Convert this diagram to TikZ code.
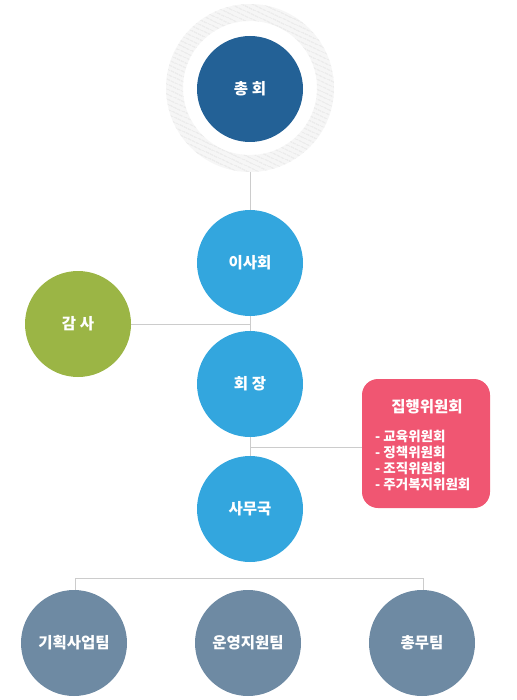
\documentclass[tikz,border=0pt]{standalone}
\usepackage{fontspec}
\setmainfont{Noto Sans CJK KR}
\usetikzlibrary{patterns.meta}
\definecolor{cdark}{HTML}{236196}
\definecolor{clight}{HTML}{33A6DE}
\definecolor{cgreen}{HTML}{9BB545}
\definecolor{cslate}{HTML}{6E8AA3}
\definecolor{cpink}{HTML}{F05672}
\definecolor{cline}{HTML}{CCCCCC}
\tikzset{
  circ/.style={circle, minimum size=106pt, inner sep=0pt, text=white, font=\bfseries\fontsize{15.5}{18}\selectfont},
  conn/.style={draw=cline, line width=0.8pt},
  item/.style={text=white, anchor=west, inner sep=0pt, font=\bfseries\fontsize{13.5}{15}\selectfont},
}
\begin{document}
\begin{tikzpicture}[x=1pt,y=-1pt]
\useasboundingbox (0,0) rectangle (516,700);
% ring around general assembly
\fill[gray!7, even odd rule] (250,88) circle (84) circle (67);
\fill[pattern={Lines[angle=-25,distance=4pt,line width=1.4pt]}, pattern color=gray!18, even odd rule] (250,88) circle (84) circle (67);
\coordinate (ringb) at (250,172);
% connectors
\coordinate (j1) at (250,324);
\coordinate (j2) at (250,447);
\coordinate (j3) at (250,578);
\coordinate (jl) at (75,578);
\coordinate (jr) at (423,578);
\draw[conn] (ringb) -- (250,560);
\draw[conn] (77,324) -- (j1);
\draw[conn] (j2) -- (365,447);
\draw[conn] (jl) -- (jr);
\draw[conn] (jl) -- (75,600);
\draw[conn] (jr) -- (423,600);
% nodes
\node[circ, fill=cdark] (gen) at (250,89) {총 회};
\node[circ, fill=clight] (board) at (250,263) {이사회};
\node[circ, fill=cgreen] (audit) at (78,324) {감 사};
\node[circ, fill=clight] (pres) at (250,384) {회 장};
\node[circ, fill=clight] (sec) at (250,509) {사무국};
\node[circ, fill=cslate] (t1) at (74,643) {기획사업팀};
\node[circ, fill=cslate] (t2) at (248,643) {운영지원팀};
\node[circ, fill=cslate] (t3) at (422,643) {총무팀};
% executive committee box
\node[fill=cpink, rounded corners=16pt, minimum width=128pt, minimum height=129pt, inner sep=0pt] (exec) at (426,443.5) {};
\node[text=white, font=\bfseries\fontsize{15.5}{18}\selectfont] (exect) at (427,407) {집행위원회};
\node[item] (e1) at (375,436) {- 교육위원회};
\node[item] (e2) at (375,452.3) {- 정책위원회};
\node[item] (e3) at (375,468.6) {- 조직위원회};
\node[item] (e4) at (375,484.9) {- 주거복지위원회};
\end{tikzpicture}
\end{document}
